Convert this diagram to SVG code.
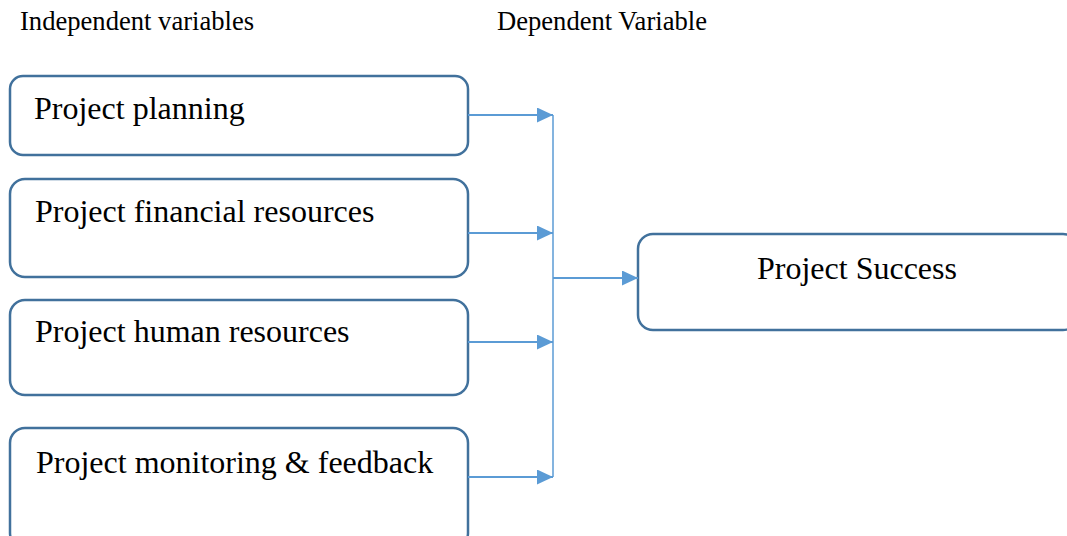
<svg xmlns="http://www.w3.org/2000/svg" width="1067" height="536" viewBox="0 0 1067 536">
<style>
.box{fill:#fff;stroke:#41719c;stroke-width:2.5}
.t{font-family:"Liberation Serif","Times New Roman",serif;fill:#000}
.big{font-size:32px}
.hdr{font-size:26.6px}
.c{stroke:#5b9bd5;stroke-width:2;fill:none}
.v{stroke:#5b9bd5;stroke-width:1.5;fill:none}
</style>
<defs>
<marker id="ah" markerUnits="userSpaceOnUse" markerWidth="16" markerHeight="16" refX="16" refY="7.5" orient="auto">
<path d="M0,0 L16,7.5 L0,15 Z" fill="#5b9bd5"/>
</marker>
</defs>
<text class="t hdr" x="20" y="30">Independent variables</text>
<text class="t hdr" x="497" y="30">Dependent Variable</text>
<g id="n1"><rect class="box" x="10" y="76" width="458" height="79" rx="13"/><text class="t big" x="34" y="119">Project planning</text></g>
<g id="n2"><rect class="box" x="10" y="179" width="458" height="98" rx="15"/><text class="t big" x="35" y="222">Project financial resources</text></g>
<g id="n3"><rect class="box" x="10" y="300" width="458" height="95" rx="15"/><text class="t big" x="35" y="342">Project human resources</text></g>
<g id="n4"><rect class="box" x="10" y="428" width="458" height="120" rx="15"/><text class="t big" x="36" y="473">Project monitoring &amp; feedback</text></g>
<g id="n5"><rect class="box" x="638" y="234" width="440" height="96" rx="15"/><text class="t big" x="757" y="279">Project Success</text></g>
<g id="connectors">
<line class="v" x1="553" y1="115" x2="553" y2="477"/>
<line class="c" x1="468" y1="115" x2="553" y2="115" marker-end="url(#ah)"/>
<line class="c" x1="468" y1="233" x2="553" y2="233" marker-end="url(#ah)"/>
<line class="c" x1="468" y1="342" x2="553" y2="342" marker-end="url(#ah)"/>
<line class="c" x1="468" y1="477" x2="553" y2="477" marker-end="url(#ah)"/>
<line class="c" x1="553" y1="278" x2="638" y2="278" marker-end="url(#ah)"/>
</g>
</svg>
